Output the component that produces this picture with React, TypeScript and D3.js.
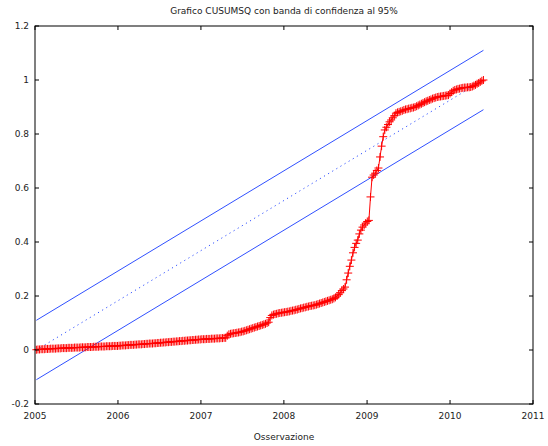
import React from "react";
import * as d3 from "d3";

// Chart text
const title = "Grafico CUSUMSQ con banda di confidenza al 95%";
const xTitle = "Osservazione";

// Axis ticks
const yTicks = [-0.2, 0, 0.2, 0.4, 0.6, 0.8, 1, 1.2];
const yTickLabels = ["-0.2", "0", "0.2", "0.4", "0.6", "0.8", "1", "1.2"];
const xTickYears = [2005, 2006, 2007, 2008, 2009, 2010, 2011];

// Weekly observations, first one in the first week of 2005
const firstObs = new Date(2005, 0, 7);

// CUSUMSQ statistic, one value per week
const cusumsq = [
  0.001, 0.002, 0.002, 0.003, 0.003, 0.003, 0.004, 0.004, 0.004, 0.005,
  0.005, 0.005, 0.005, 0.006, 0.006, 0.006, 0.007, 0.007, 0.007, 0.007,
  0.008, 0.008, 0.008, 0.008, 0.009, 0.009, 0.009, 0.009, 0.010, 0.010,
  0.010, 0.010, 0.011, 0.011, 0.011, 0.011, 0.012, 0.012, 0.012, 0.012,
  0.013, 0.013, 0.013, 0.013, 0.014, 0.014, 0.014, 0.014, 0.015, 0.015,
  0.015, 0.015,
  0.016, 0.016, 0.017, 0.017, 0.017, 0.018, 0.018, 0.019, 0.019, 0.019,
  0.020, 0.020, 0.021, 0.021, 0.021, 0.022, 0.022, 0.023, 0.023, 0.024,
  0.024, 0.024, 0.025, 0.025, 0.026, 0.026, 0.027, 0.027, 0.028, 0.028,
  0.029, 0.029, 0.030, 0.030, 0.031, 0.031, 0.032, 0.032, 0.033, 0.033,
  0.034, 0.034, 0.035, 0.035, 0.036, 0.036, 0.037, 0.037, 0.038, 0.038,
  0.039, 0.039,
  0.040, 0.040, 0.040, 0.041, 0.041, 0.041, 0.042, 0.042, 0.042, 0.043,
  0.043, 0.043, 0.044, 0.044, 0.045, 0.045,
  0.053, 0.058, 0.060, 0.061, 0.062, 0.063, 0.064, 0.065, 0.066, 0.068,
  0.069, 0.071, 0.073, 0.075, 0.077, 0.079, 0.081, 0.083, 0.085, 0.087,
  0.089, 0.091, 0.093, 0.095, 0.097, 0.100,
  0.103, 0.120, 0.128, 0.131, 0.133, 0.134, 0.136, 0.137, 0.138, 0.139,
  0.140, 0.141, 0.142, 0.143, 0.145, 0.146, 0.147, 0.149, 0.150, 0.152,
  0.154, 0.155, 0.157, 0.158, 0.160, 0.161, 0.163, 0.164, 0.165, 0.166,
  0.168, 0.170, 0.172, 0.174, 0.176, 0.178, 0.180, 0.182, 0.184, 0.186,
  0.188, 0.191, 0.195, 0.200, 0.205, 0.212, 0.220, 0.226,
  0.233, 0.260, 0.285, 0.310, 0.333, 0.360, 0.380, 0.395, 0.407, 0.430,
  0.444, 0.455, 0.463, 0.470, 0.476, 0.480, 0.567, 0.640, 0.648, 0.655,
  0.665, 0.674, 0.715,
  0.755, 0.790, 0.815, 0.825, 0.835, 0.845, 0.852, 0.860, 0.868, 0.877,
  0.880, 0.882, 0.884, 0.886,
  0.889, 0.891, 0.892, 0.894, 0.895, 0.897, 0.898, 0.900, 0.903, 0.906,
  0.909, 0.912, 0.915, 0.918, 0.921, 0.923, 0.926, 0.928, 0.931, 0.933,
  0.935, 0.937, 0.938, 0.939, 0.940, 0.941, 0.942, 0.943,
  0.944, 0.950, 0.955, 0.960, 0.963, 0.965, 0.967, 0.968, 0.970, 0.971,
  0.972, 0.972, 0.973, 0.973, 0.974, 0.976, 0.979, 0.982, 0.986, 0.989,
  0.993, 0.997, 1.000,
];

// Straight band lines: value at first and at last observation
const upperBand = [0.11, 1.11];
const expectedLine = [0.0, 1.0];
const lowerBand = [-0.11, 0.89];

const W = 548;
const H = 446;
const M = { left: 35, right: 15, top: 26, bottom: 42 };
const FONT = "DejaVu Sans, Verdana, sans-serif";

export default function App() {
  const dates = cusumsq.map((_, i) => d3.timeWeek.offset(firstObs, i));
  const x = d3
    .scaleTime()
    .domain([new Date(2005, 0, 1), new Date(2011, 0, 1)])
    .range([M.left, W - M.right]);
  const y = d3.scaleLinear().domain([-0.2, 1.2]).range([H - M.bottom, M.top]);

  const pts: [Date, number][] = dates.map((d, i) => [d, cusumsq[i]]);
  const line = d3
    .line<[Date, number]>()
    .x((d) => x(d[0]))
    .y((d) => y(d[1]));

  const ends = [dates[0], dates[dates.length - 1]];
  const seg = (v: number[]) =>
    line([
      [ends[0], v[0]],
      [ends[1], v[1]],
    ]) as string;

  const x0 = M.left;
  const x1 = W - M.right;
  const y0 = M.top;
  const y1 = H - M.bottom;
  const tick = 4;
  const cs = 4;

  const crosses = pts
    .map((p) => {
      const px = x(p[0]);
      const py = y(p[1]);
      return `M${px - cs},${py}H${px + cs}M${px},${py - cs}V${py + cs}`;
    })
    .join("");

  return (
    <svg
      width={W}
      height={H}
      style={{ position: "absolute", left: 0, top: 0, background: "#fff" }}
      fontFamily={FONT}
    >
      <rect x={0} y={0} width={W} height={H} fill="#fff" />
      <text x={(x0 + x1) / 2} y={14} textAnchor="middle" fontSize={9} fill="#222">
        {title}
      </text>

      {/* band and expected value */}
      <path d={seg(upperBand)} stroke="#3050ff" strokeWidth={1} fill="none" />
      <path d={seg(lowerBand)} stroke="#3050ff" strokeWidth={1} fill="none" />
      <path
        d={seg(expectedLine)}
        stroke="#3050ff"
        strokeWidth={1}
        strokeDasharray="1.2,3.6"
        fill="none"
      />

      {/* CUSUMSQ */}
      <path d={line(pts) as string} stroke="#ff0000" strokeWidth={1} fill="none" />
      <path d={crosses} stroke="#ff0000" strokeWidth={1} fill="none" />

      {/* frame and ticks */}
      <rect x={x0} y={y0} width={x1 - x0} height={y1 - y0} fill="none" stroke="#000" strokeWidth={1} />
      {yTicks.map((t, i) => (
        <g key={"y" + i}>
          <line x1={x0} x2={x0 + tick} y1={y(t)} y2={y(t)} stroke="#000" />
          <line x1={x1} x2={x1 - tick} y1={y(t)} y2={y(t)} stroke="#000" />
          <text x={x0 - 6} y={y(t) + 3} textAnchor="end" fontSize={9} fill="#222">
            {yTickLabels[i]}
          </text>
        </g>
      ))}
      {xTickYears.map((yr) => {
        const px = x(new Date(yr, 0, 1));
        return (
          <g key={"x" + yr}>
            <line x1={px} x2={px} y1={y1} y2={y1 - tick} stroke="#000" />
            <line x1={px} x2={px} y1={y0} y2={y0 + tick} stroke="#000" />
            <text x={px} y={y1 + 15} textAnchor="middle" fontSize={9} fill="#222">
              {yr}
            </text>
          </g>
        );
      })}
      <text x={(x0 + x1) / 2} y={y1 + 36} textAnchor="middle" fontSize={9} fill="#222">
        {xTitle}
      </text>
    </svg>
  );
}
